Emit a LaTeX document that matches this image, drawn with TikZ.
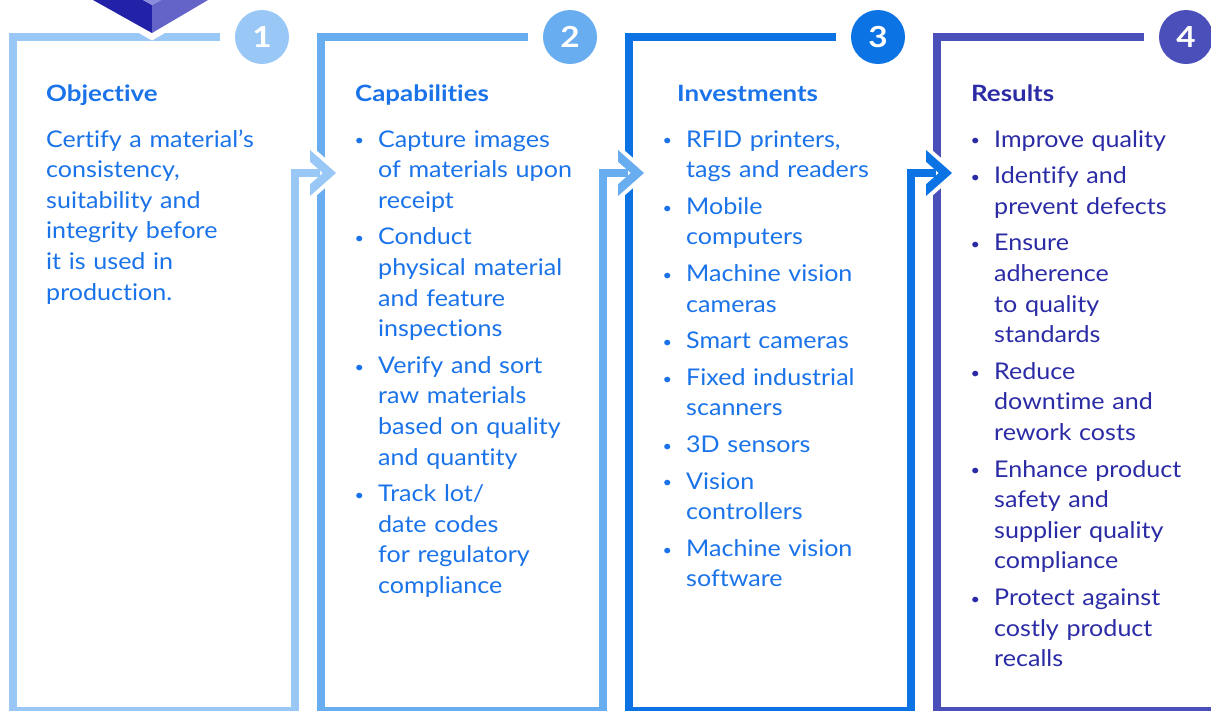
\documentclass[tikz,border=0pt]{standalone}
\usepackage{fontspec}
\setmainfont{Lato}[FakeStretch=1.09, Ligatures=NoCommon]
\newfontfamily\headfont{Lato}[FakeStretch=1.15, Ligatures=NoCommon]
\usepackage{tikz}
\usetikzlibrary{positioning}
\definecolor{stepone}{HTML}{9AC8F6}
\definecolor{steptwo}{HTML}{68ADEF}
\definecolor{stepthree}{HTML}{0B73E3}
\definecolor{stepfour}{HTML}{4B4FBA}
\definecolor{textblue}{HTML}{1A73E8}
\definecolor{textindigo}{HTML}{2B2BA6}
\definecolor{cubedark}{HTML}{2222A8}
\definecolor{cubemid}{HTML}{6464C8}
\definecolor{cubelight}{HTML}{8C8CDC}
\tikzset{
% frame lines and the number disks
frame/.style={line width=8pt, line join=miter, line cap=butt},
numdisk/.style={circle, minimum size=54pt, inner sep=0pt, text=white,
  font=\headfont\fontsize{29}{29}\selectfont\bfseries},
heading/.style={anchor=base west, inner sep=0pt, font=\headfont\fontsize{22.5}{26}\selectfont\bfseries},
body/.style={anchor=base west, inner sep=0pt, align=left, text width=235pt,
  font=\fontsize{23}{30.6}\selectfont}
}
\newcommand\bul{\leavevmode\llap{\raisebox{1.2pt}{\fontsize{15}{15}\selectfont\textbullet}\hspace{14pt}}}
\newcommand\gap{\\[6pt]}

\begin{document}
\begin{tikzpicture}[x=1pt, y=-1pt]
  \useasboundingbox (0,0) rectangle (1211,710);

  % number disks
  \node[numdisk, fill=stepone] (disk1) at (262,37) {1};
  \node[numdisk, fill=steptwo] (disk2) at (570,37) {2};
  \node[numdisk, fill=stepthree] (disk3) at (878,37) {3};
  \node[numdisk, fill=stepfour] (disk4) at (1186,37) {4};

  % frames
  \draw[frame, stepone] (220,37) -- (13,37) -- (13,711) -- (295,711) -- (295,173) -- (318,173);
  \draw[frame, steptwo] (528,37) -- (321,37) -- (321,711) -- (603,711) -- (603,173) -- (626,173);
  \draw[frame, stepthree] (836,37) -- (629,37) -- (629,711) -- (911,711) -- (911,173) -- (934,173);
  \draw[frame, stepfour] (1144,37) -- (937,37) -- (937,711) -- (1215,711);

  % chevrons
  \foreach \x/\col in {295/stepone, 603/steptwo, 911/stepthree}{
    \draw[white, line width=8pt, line join=miter, fill=white]
      (\x+15,150) -- (\x+41,173) -- (\x+15,196) -- (\x+15,184.3) -- (\x+27.8,173) -- (\x+15,161.7) -- cycle;
    \fill[\col]
      (\x+15,150) -- (\x+41,173) -- (\x+15,196) -- (\x+15,184.3) -- (\x+27.8,173) -- (\x+15,161.7) -- cycle;
    \draw[frame, \col] (\x-4,173) -- (\x+25,173);
  }

  % cube
  \draw[white, line width=13pt, line join=miter] (93,0) -- (152,33) -- (208,0);
  \fill[cubedark] (93,0) -- (152,33) -- (152,5) -- (143,0) -- cycle;
  \fill[cubemid] (152,33) -- (208,0) -- (161,0) -- (152,5) -- cycle;
  \fill[cubelight] (143,0) -- (152,5) -- (161,0) -- cycle;

  % Objective
  \node[heading, text=textblue] (head1) at (46,101) {Objective};
  \node[body, text=textblue] (body1) at (46,147) {Certify a material’s\\consistency,\\suitability and\\integrity before\\it is used in\\production.};

  % Capabilities
  \node[heading, text=textblue] (head2) at (355,101) {Capabilities};
  \node[body, text=textblue] (body2) at (378,147) {\bul Capture images\\of materials upon\\receipt\gap
    \bul Conduct\\physical material\\and feature\\inspections\gap
    \bul Verify and sort\\raw materials\\based on quality\\and quantity\gap
    \bul Track lot/\\date codes\\for regulatory\\compliance};

  % Investments
  \node[heading, text=textblue] (head3) at (677,101) {Investments};
  \node[body, text=textblue] (body3) at (686,147) {\bul RFID printers,\\tags and readers\gap
    \bul Mobile\\computers\gap
    \bul Machine vision\\cameras\gap
    \bul Smart cameras\gap
    \bul Fixed industrial\\scanners\gap
    \bul 3D sensors\gap
    \bul Vision\\controllers\gap
    \bul Machine vision\\software};

  % Results
  \node[heading, text=textindigo] (head4) at (971,101) {Results};
  \node[body, text=textindigo] (body4) at (994,147) {\bul Improve quality\gap
    \bul Identify and\\prevent defects\gap
    \bul Ensure\\adherence\\to quality\\standards\gap
    \bul Reduce\\downtime and\\rework costs\gap
    \bul Enhance product\\safety and\\supplier quality\\compliance\gap
    \bul Protect against\\costly product\\recalls};
\end{tikzpicture}
\end{document}
